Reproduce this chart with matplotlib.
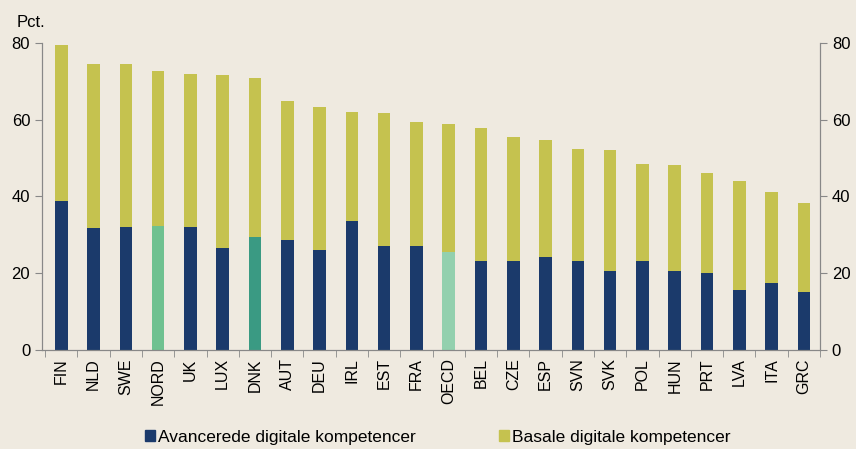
import matplotlib
matplotlib.use("Agg")
import matplotlib.pyplot as plt
from matplotlib.patches import Patch

plt.rcParams['font.family'] = ['Liberation Sans', 'DejaVu Sans']

lande = ['FIN', 'NLD', 'SWE', 'NORD', 'UK', 'LUX', 'DNK', 'AUT', 'DEU', 'IRL', 'EST', 'FRA',
         'OECD', 'BEL', 'CZE', 'ESP', 'SVN', 'SVK', 'POL', 'HUN', 'PRT', 'LVA', 'ITA', 'GRC']
avanceret = [38.8, 31.8, 32.0, 32.2, 32.0, 26.6, 29.5, 28.6, 26.0, 33.6, 27.1, 27.1,
             25.5, 23.2, 23.2, 24.2, 23.2, 20.6, 23.2, 20.6, 20.1, 15.6, 17.4, 15.1]
total = [79.4, 74.5, 74.5, 72.7, 71.9, 71.6, 70.8, 64.8, 63.3, 62.0, 61.7, 59.4,
         58.9, 57.8, 55.5, 54.7, 52.3, 52.1, 48.4, 48.2, 46.1, 44.0, 41.1, 38.3]
basal = [t - a for t, a in zip(total, avanceret)]

bg = '#EFEAE0'
navy = '#1B3A6B'
gul = '#C5C24F'
saerfarver = {'NORD': '#6FC190', 'DNK': '#3A9A83', 'OECD': '#93D0AE'}
farver = [saerfarver.get(l, navy) for l in lande]

fig = plt.figure(figsize=(8.56, 4.49), dpi=100, facecolor=bg)
ax = fig.add_axes([0.049, 0.2205, 0.909, 0.684], facecolor=bg)

x = list(range(len(lande)))
ax.bar(x, avanceret, width=0.39, color=farver)
ax.bar(x, basal, bottom=avanceret, width=0.39, color=gul)

ax.set_xlim(-0.6, len(lande) - 0.5)
ax.set_ylim(0, 80)
ax.set_yticks([0, 20, 40, 60, 80])

ax.set_xticks(x)
ax.set_xticklabels(lande, rotation=90, fontsize=11.5)
ax.set_xticks([i + 0.5 for i in range(-1, len(lande))], minor=True)
ax.tick_params(axis='x', which='major', length=0, pad=6)
ax.tick_params(axis='x', which='minor', length=5, color='#888888')

ax2 = ax.twinx()
ax2.set_ylim(0, 80)
ax2.set_yticks([0, 20, 40, 60, 80])

for a in (ax, ax2):
    a.tick_params(axis='y', labelsize=12, length=5, color='#888888')
    a.spines['top'].set_visible(False)
    for s in ('left', 'right', 'bottom'):
        a.spines[s].set_color('#888888')

fig.text(0.02, 0.94, 'Pct.', fontsize=12)

handles = [Patch(color=navy, label='Avancerede digitale kompetencer'),
           Patch(color=gul, label='Basale digitale kompetencer')]
fig.legend(handles=handles, loc='lower center', bbox_to_anchor=(0.511, -0.025), ncol=2,
           frameon=False, fontsize=12.5, handlelength=0.6, handleheight=0.6,
           handletextpad=0.15, columnspacing=4.8)

fig.savefig('out.png', dpi=100, facecolor=bg)
